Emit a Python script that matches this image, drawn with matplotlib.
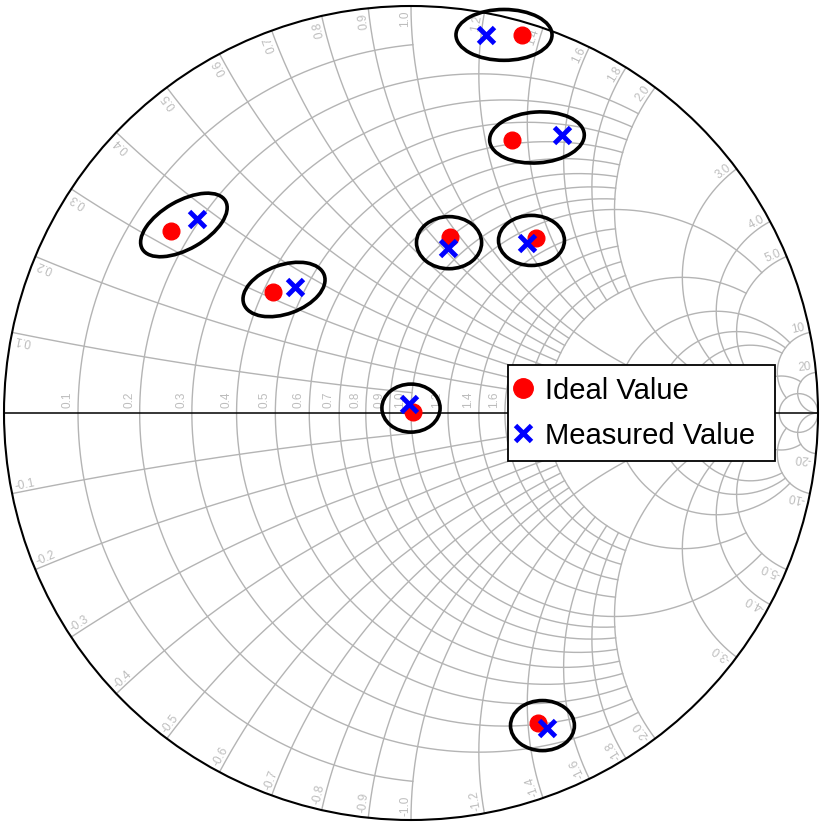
import numpy as np
import matplotlib
matplotlib.use('Agg')
import matplotlib.pyplot as plt
from matplotlib.patches import Ellipse, Circle
from matplotlib.lines import Line2D

ideal_re = [0.273, 0.248, -0.590, -0.339, 0.096, 0.307, 0.005, 0.312]
ideal_im = [0.929, 0.671, 0.447, 0.297, 0.432, 0.430, 0.002, -0.762]
meas_re = [0.184, 0.371, -0.526, -0.285, 0.091, 0.285, -0.005, 0.334]
meas_im = [0.929, 0.683, 0.477, 0.310, 0.405, 0.418, 0.022, -0.774]

# grid circle values and the value of the other family where each one stops
grid_vals = [0.1, 0.2, 0.3, 0.4, 0.5, 0.6, 0.7, 0.8, 0.9, 1.0,
             1.2, 1.4, 1.6, 1.8, 2.0, 3.0, 4.0, 5.0, 10, 20]
grid_ends = [1, 2, 2, 2, 2, 2, 2, 2, 2, 5,
             2, 2, 2, 2, 5, 10, 10, 10, 20, np.inf]

# ellipse sizes around each pair (in chart radii) and tilt
ell_w = [0.236, 0.233, 0.236, 0.210, 0.160, 0.162, 0.143, 0.157]
ell_h = [0.125, 0.125, 0.118, 0.120, 0.128, 0.123, 0.118, 0.123]
ell_ang = [0, 4, 30, 20, 0, 0, 0, 0]

CX, CY, RAD = 411.0, 413.0, 407.0
GRID = '#b4b4b4'
LAB = '#bdbdbd'
FS = 8.5

plt.rcParams['font.family'] = ['Liberation Sans', 'DejaVu Sans']

fig = plt.figure(figsize=(8.27, 8.27), dpi=100)
ax = fig.add_axes([0, 0, 1, 1])
ax.set_xlim(-CX / RAD, (827 - CX) / RAD)
ax.set_ylim((CY - 827) / RAD, CY / RAD)
ax.set_axis_off()


def gamma(z):
    return (z - 1) / (z + 1)


def tanspace(lo, hi, n=600):
    t = np.linspace(np.arctan(lo), np.arctan(hi), n)
    return np.tan(t)


for v, e in zip(grid_vals, grid_ends):
    e2 = 1e5 if np.isinf(e) else e
    # constant resistance circle
    xs = tanspace(-e2, e2)
    g = gamma(v + 1j * xs)
    ax.plot(g.real, g.imag, color=GRID, lw=1.0, zorder=1)
    # constant reactance arcs
    rs = tanspace(0, e2)
    for s in (1, -1):
        g = gamma(rs + 1j * s * v)
        ax.plot(g.real, g.imag, color=GRID, lw=1.0, zorder=1)

    lab = '%.1f' % v if v < 10 else '%d' % v
    # label on the real axis (the ones under the legend box are not visible)
    gr = gamma(v).real
    if gr < (505 - CX) / RAD or gr > (776 - CX) / RAD:
        ax.text(gr - 0.011, 0.012, lab, rotation=90, rotation_mode='anchor',
                ha='left', va='bottom', fontsize=FS, color=LAB, zorder=1)
    # labels on the rim
    for s in (1, -1):
        g0 = gamma(1j * s * v)
        th = np.degrees(np.angle(g0))
        pr = 0.99
        px, py = pr * np.cos(np.radians(th)), pr * np.sin(np.radians(th))
        if s > 0:
            ax.text(px, py, lab, rotation=th, rotation_mode='anchor',
                    ha='right', va='bottom', fontsize=FS, color=LAB, zorder=1)
        else:
            ax.text(px, py, '-' + lab, rotation=th + 180, rotation_mode='anchor',
                    ha='left', va='bottom', fontsize=FS, color=LAB, zorder=1)

ax.plot([-1, 1], [0, 0], color='black', lw=1.1, zorder=2)
ax.add_patch(Circle((0, 0), 1, fill=False, ec='black', lw=1.5, zorder=2))

for i in range(len(ideal_re)):
    cx = (ideal_re[i] + meas_re[i]) / 2
    cy = (ideal_im[i] + meas_im[i]) / 2
    ax.add_patch(Ellipse((cx, cy), ell_w[i], ell_h[i], angle=ell_ang[i],
                         fill=False, ec='black', lw=2.6, zorder=3))

ax.plot(ideal_re, ideal_im, 'o', color='#ff0000', ms=12, ls='none', zorder=4)
ax.plot(meas_re, meas_im, 'x', color='#0000ff', ms=12, mew=3.5, ls='none', zorder=5)

handles = [Line2D([], [], marker='o', color='#ff0000', ms=14, ls='none'),
           Line2D([], [], marker='x', color='#0000ff', ms=12, mew=3.5, ls='none')]
leg = ax.legend(handles, ['Ideal Value', 'Measured Value'], loc='upper left',
                bbox_to_anchor=(508 / 827, 1 - 460 / 827, 267 / 827, 95 / 827),
                mode='expand', borderaxespad=0,
                fontsize=21, frameon=True, fancybox=False, framealpha=1,
                edgecolor='black', handlelength=0.25, handletextpad=0.62,
                borderpad=0.4, labelspacing=0.58)
leg.get_frame().set_linewidth(1.3)
leg.set_zorder(6)

plt.savefig('out.png', dpi=100)
